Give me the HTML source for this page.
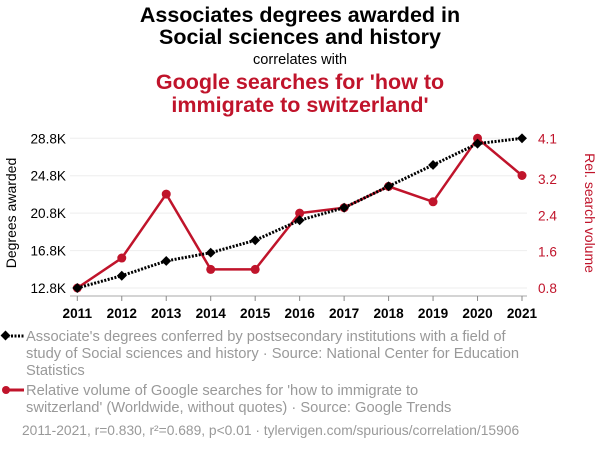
<!DOCTYPE html>
<html><head><meta charset="utf-8"><style>
body{margin:0;background:#fff;width:600px;height:452px;overflow:hidden;font-family:"Liberation Sans",sans-serif}
</style></head><body>
<svg id="c" width="600" height="452" font-family="Liberation Sans, sans-serif">
<text x="300" y="22" text-anchor="middle" font-size="21.5" font-weight="bold" fill="#000">Associates degrees awarded in</text>
<text x="300" y="44" text-anchor="middle" font-size="21.5" font-weight="bold" fill="#000">Social sciences and history</text>
<text x="300" y="64" text-anchor="middle" font-size="14.6" fill="#000">correlates with</text>
<text x="300" y="89" text-anchor="middle" font-size="21.5" font-weight="bold" fill="#c0142b">Google searches for 'how to</text>
<text x="300" y="112" text-anchor="middle" font-size="21.5" font-weight="bold" fill="#c0142b">immigrate to switzerland'</text>
<g id="grid"></g><g id="axes"></g><g id="series"></g>
<text transform="translate(16,213) rotate(-90)" text-anchor="middle" font-size="14" fill="#000">Degrees awarded</text>
<text transform="translate(585,213) rotate(90)" text-anchor="middle" font-size="14" fill="#c0142b">Rel. search volume</text>
<g>
<line x1="4" y1="336" x2="24" y2="336" stroke="#000" stroke-width="3" stroke-dasharray="2,1.5"/>
<rect x="2" y="332" width="7" height="7" transform="rotate(45 5.5 335.5)" fill="#000"/>
<text font-size="14.7" fill="#999"><tspan x="26" y="341">Associate's degrees conferred by postsecondary institutions with a field of</tspan><tspan x="26" y="358">study of Social sciences and history · Source: National Center for Education</tspan><tspan x="26" y="375">Statistics</tspan></text>
</g>
<g>
<line x1="4" y1="390" x2="24" y2="390" stroke="#c0142b" stroke-width="3"/>
<circle cx="6" cy="390" r="4" fill="#c0142b"/>
<text font-size="14.7" fill="#999"><tspan x="26" y="395">Relative volume of Google searches for 'how to immigrate to</tspan><tspan x="26" y="412">switzerland' (Worldwide, without quotes) · Source: Google Trends</tspan></text>
</g>
<text x="22" y="435" font-size="13.8" fill="#999">2011-2021, r=0.830, r²=0.689, p&lt;0.01 · tylervigen.com/spurious/correlation/15906</text>
</svg>
<script>
const years=[2011,2012,2013,2014,2015,2016,2017,2018,2019,2020,2021];
const degrees=[12.8,14.11,15.69,16.57,17.9,20.04,21.38,23.67,25.95,28.23,28.8];
const searches=[0.8,1.46,2.87,1.21,1.21,2.45,2.57,3.04,2.70,4.1,3.28];
const leftTicks=[12.8,16.8,20.8,24.8,28.8];
const rightTicks=[0.8,1.6,2.4,3.2,4.1];
const NS="http://www.w3.org/2000/svg";
const x=i=>77.3+(522-77.3)*(years[i]-2011)/10;
const yl=v=>288-(v-12.8)/16*149.7;
const yr=v=>288-(v-0.8)/3.3*149.7;
function mk(t,a,p){const e=document.createElementNS(NS,t);for(const k in a)e.setAttribute(k,a[k]);p.appendChild(e);return e;}
const G=document.getElementById('grid'),A=document.getElementById('axes'),S=document.getElementById('series');
leftTicks.forEach((v,i)=>{
 const l=mk('line',{x1:70,x2:527,y1:yl(v),y2:yl(v),stroke:'#eee','stroke-width':1},G);
 
 
 const t=mk('text',{x:66,y:yl(v)+5,'text-anchor':'end','font-size':13.6,fill:'#000'},A);
 t.textContent=v.toFixed(1)+'K';
 
 
});
rightTicks.forEach(v=>{
 const t=mk('text',{x:538,y:yr(v)+5,'font-size':13.6,fill:'#c0142b'},A);
 t.textContent=v.toFixed(1);
 
 
});
mk('line',{x1:70,x2:527,y1:296,y2:296,stroke:'#aaa'},A);
years.forEach((yv,i)=>{
 mk('line',{x1:x(i),x2:x(i),y1:296,y2:301,stroke:'#888'},A);
 const t=mk('text',{x:x(i),y:318,'text-anchor':'middle','font-size':13.6,'font-weight':'bold',fill:'#000'},A);
 t.textContent=yv;
 
 
});
const rp=mk('polyline',{points:searches.map((v,i)=>x(i)+','+yr(v)).join(' '),fill:'none',stroke:'#c0142b','stroke-width':2.5},S);


searches.forEach((v,i)=>{
 const c=mk('circle',{cx:x(i),cy:yr(v),r:4.5,fill:'#c0142b'},S);
 
 
});
const bp=mk('polyline',{points:degrees.map((v,i)=>x(i)+','+yl(v)).join(' '),fill:'none',stroke:'#000','stroke-width':3,'stroke-dasharray':'2,1.5'},S);


degrees.forEach((v,i)=>{
 const r=mk('rect',{x:x(i)-3.5,y:yl(v)-3.5,width:7,height:7,fill:'#000',transform:`rotate(45 ${x(i)} ${yl(v)})`},S);
 
 
});
</script>
</body></html>
